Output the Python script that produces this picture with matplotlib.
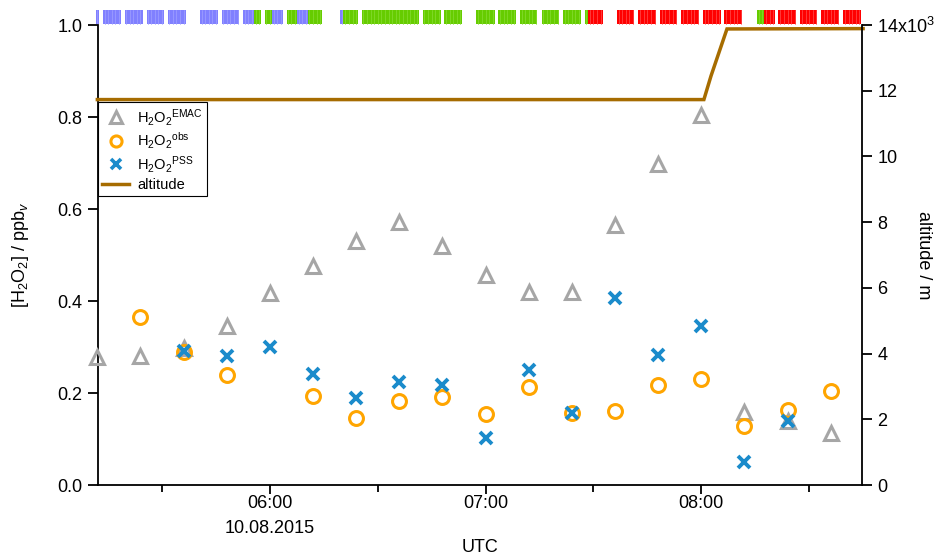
import numpy as np
import matplotlib
matplotlib.use("Agg")
import matplotlib.pyplot as plt
from matplotlib.lines import Line2D
from matplotlib.transforms import blended_transform_factory

plt.rcParams["font.family"] = ["Liberation Sans", "DejaVu Sans"]
plt.rcParams["mathtext.fontset"] = "custom"
plt.rcParams["mathtext.rm"] = "Liberation Sans"
plt.rcParams["mathtext.it"] = "Liberation Sans:italic"
plt.rcParams["mathtext.bf"] = "Liberation Sans:bold"

# time in decimal hours UTC
t_emac = [5.2, 5.4, 5.6, 5.8, 6.0, 6.2, 6.4, 6.6, 6.8, 7.0, 7.2, 7.4, 7.6, 7.8, 8.0, 8.2, 8.4, 8.6]
h2o2_emac = [0.278, 0.28, 0.297, 0.345, 0.417, 0.476, 0.53, 0.572, 0.52, 0.457,
             0.42, 0.42, 0.565, 0.698, 0.804, 0.159, 0.14, 0.113]

t_obs = [5.4, 5.6, 5.8, 6.2, 6.4, 6.6, 6.8, 7.0, 7.2, 7.4, 7.6, 7.8, 8.0, 8.2, 8.4, 8.6]
h2o2_obs = [0.365, 0.29, 0.24, 0.193, 0.146, 0.183, 0.191, 0.154, 0.213, 0.157,
            0.161, 0.217, 0.23, 0.128, 0.163, 0.204]

t_pss = [5.6, 5.8, 6.0, 6.2, 6.4, 6.6, 6.8, 7.0, 7.2, 7.4, 7.6, 7.8, 8.0, 8.2, 8.4]
h2o2_pss = [0.291, 0.28, 0.30, 0.241, 0.189, 0.224, 0.217, 0.102, 0.25, 0.157,
            0.407, 0.283, 0.346, 0.05, 0.139]

t_alt = [5.2, 8.012, 8.045, 8.119, 8.75]
altitude = [11730, 11730, 12450, 13880, 13890]

# flight segment flags: start / end in minutes after 05:00, category
flag_start = [11.58, 13.59, 19.63, 25.76, 31.60, 40.55, 46.69, 52.53, 55.54, 58.56, 60.57,
              64.70, 67.52, 70.53, 79.49, 80.29, 85.63, 102.53, 108.37, 117.42, 123.46,
              129.49, 135.63, 141.47, 147.60, 148.41, 156.56, 162.39, 168.53, 174.37,
              180.40, 186.24, 195.49, 197.41, 201.33, 207.47, 213.30, 219.34]
flag_end = [12.48, 18.52, 24.66, 30.49, 36.63, 45.58, 51.42, 55.54, 57.46, 60.57, 63.59,
            67.52, 70.53, 74.46, 80.29, 84.52, 101.42, 107.56, 113.40, 122.55, 128.39,
            134.22, 140.36, 146.50, 148.41, 152.63, 161.29, 167.32, 173.26, 179.30,
            185.43, 191.27, 197.41, 200.42, 206.36, 212.20, 218.23, 224.37]
flag_cat = ["b", "b", "b", "b", "b", "b", "b", "b", "g", "g", "b",
            "g", "b", "g", "b", "g", "g", "g", "g", "g", "g",
            "g", "g", "g", "g", "r", "r", "r", "r", "r",
            "r", "r", "g", "r", "r", "r", "r", "r"]
flag_colors = {"b": "#8080FF", "g": "#66CC00", "r": "#FF0000"}
flag_stripe = {"b": "#A0A0FF", "g": "#88DD33", "r": "#FF5050"}

major_ticks = [6, 7, 8]
major_labels = ["06:00\n10.08.2015", "07:00", "08:00"]
minor_ticks = [5.5, 6.5, 7.5, 8.5]

fig = plt.figure(figsize=(9.47, 5.59), dpi=100)
ax = fig.add_axes([98 / 947, 1 - 485 / 559, 764 / 947, 460 / 559])
ax2 = ax.twinx()

ax.set_xlim(5.203, 8.745)
ax.set_ylim(0, 1.0)
ax2.set_ylim(0, 14000)

c_emac = "#A6A6A6"
c_obs = "#FFA500"
c_pss = "#1A8BCB"
c_alt = "#A66C00"

ax.plot(t_emac, h2o2_emac, ls="none", marker="^", ms=10, mfc="none", mec=c_emac, mew=2.2,
        clip_on=False, zorder=3)
ax.plot(t_obs, h2o2_obs, ls="none", marker="o", ms=10, mfc="none", mec=c_obs, mew=2.2,
        clip_on=False, zorder=4)
ax.plot(t_pss, h2o2_pss, ls="none", marker="x", ms=9, mec=c_pss, mew=2.8,
        clip_on=False, zorder=5)
ax2.plot(t_alt, altitude, color=c_alt, lw=2.5, solid_joinstyle="miter", clip_on=False)

# flag bars above the plot
trans = blended_transform_factory(ax.transData, ax.transAxes)
for s, e, c in zip(flag_start, flag_end, flag_cat):
    x0 = 5 + s / 60
    x1 = 5 + e / 60
    ax.bar(x0, 0.031, width=x1 - x0, bottom=1.002, align="edge", color=flag_colors[c],
           lw=0, transform=trans, clip_on=False, zorder=2)
    for m in np.arange(np.ceil(s), e, 1.0):
        ax.plot([5 + m / 60] * 2, [1.002, 1.033], color=flag_stripe[c], lw=0.5,
                transform=trans, clip_on=False, zorder=2)

for a in (ax, ax2):
    a.spines["top"].set_visible(False)
    for sp in a.spines.values():
        sp.set_linewidth(1.3)
ax.spines["right"].set_visible(False)
ax2.spines["left"].set_visible(False)
ax2.spines["bottom"].set_visible(False)

ax.set_xticks(major_ticks, major_labels, linespacing=1.55)
ax.set_xticks(minor_ticks, minor=True)
ax.set_yticks([0, 0.2, 0.4, 0.6, 0.8, 1.0], ["0.0", "0.2", "0.4", "0.6", "0.8", "1.0"])
ax2.set_yticks([0, 2000, 4000, 6000, 8000, 10000, 12000, 14000],
               ["0", "2", "4", "6", "8", "10", "12", "14x10$^3$"])
ax.tick_params(axis="y", which="major", direction="out", length=7, width=1.3,
               labelsize=13, pad=4)
ax.tick_params(axis="x", which="major", direction="out", length=6.5, width=1.3,
               labelsize=13, pad=1)
ax.tick_params(axis="x", which="minor", direction="out", length=5, width=1.3)
ax2.tick_params(axis="y", direction="out", length=7, width=1.3, labelsize=13, pad=4)

ax.set_xlabel("UTC", fontsize=13, labelpad=2)
ax.set_ylabel("[H$_2$O$_2$] / ppb$_v$", fontsize=13)
ax.yaxis.set_label_coords(-0.088, 0.5)
ax2.set_ylabel("altitude / m", fontsize=13, rotation=270, va="center")
ax2.yaxis.set_label_coords(1.081, 0.5)

handles = [
    Line2D([], [], ls="none", marker="^", ms=8, mfc="none", mec=c_emac, mew=2.2),
    Line2D([], [], ls="none", marker="o", ms=8, mfc="none", mec=c_obs, mew=2.2),
    Line2D([], [], ls="none", marker="x", ms=7, mec=c_pss, mew=2.6),
    Line2D([], [], color=c_alt, lw=2.5),
]
labels = ["H$_2$O$_2$$^{\\mathrm{EMAC}}$", "H$_2$O$_2$$^{\\mathrm{obs}}$",
          "H$_2$O$_2$$^{\\mathrm{PSS}}$", "altitude"]
leg = ax2.legend(handles, labels, loc="upper left", bbox_to_anchor=(0.0, 0.832),
                 fontsize=10.5, frameon=True, fancybox=False, edgecolor="black",
                 framealpha=1, borderpad=0.3, labelspacing=0.2, handlelength=1.8,
                 handletextpad=0.6, borderaxespad=0)
leg.get_frame().set_linewidth(0.8)

fig.savefig("out.png", dpi=100)
